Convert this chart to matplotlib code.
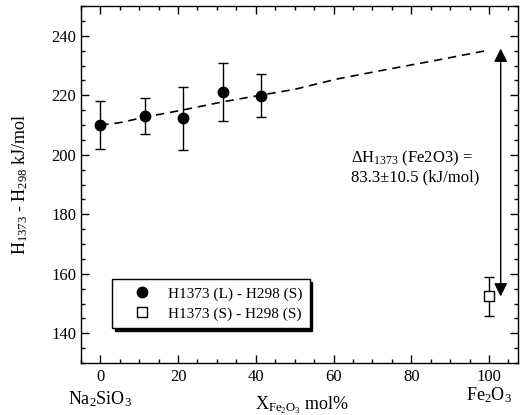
import matplotlib
matplotlib.use("Agg")
import matplotlib.pyplot as plt
from matplotlib.lines import Line2D
from matplotlib.ticker import MultipleLocator

plt.rcParams["font.family"] = ["Liberation Serif", "DejaVu Serif"]
plt.rcParams["mathtext.fontset"] = "custom"
plt.rcParams["mathtext.rm"] = "Liberation Serif"
plt.rcParams["mathtext.it"] = "Liberation Serif:italic"
plt.rcParams["mathtext.default"] = "rm"

# Enthalpy of liquid melts, H1373(L) - H298(S)
x_liq = [0, 11.6, 21.4, 31.5, 41.4]
h_liq = [210.1, 213.1, 212.3, 221.0, 219.9]
err_liq = [8.0, 6.0, 10.6, 9.8, 7.3]

# Crystalline Fe2O3, H1373(S) - H298(S)
x_sol = [100]
h_sol = [152.4]
err_sol = [6.4]

# Dashed trend of the liquid enthalpy up to pure Fe2O3
x_fit = [0, 5, 12, 21, 31.5, 41.5, 50, 61, 73, 87, 100]
h_fit = [210.0, 210.8, 212.8, 215.0, 217.8, 220.1, 222.0, 225.5, 228.5, 231.9, 235.2]

dH_fus = 83.3
dH_err = 10.5

labels = ["H1373 (L) - H298 (S)", "H1373 (S) - H298 (S)"]

fig = plt.figure(figsize=(5.25, 4.15), dpi=100)
ax = fig.add_axes([0.154, 0.125, 0.833, 0.8605])

ax.plot(x_fit, h_fit, ls=(0, (5, 3.5)), color="black", lw=1.2, zorder=1)

ax.errorbar(x_liq, h_liq, yerr=err_liq, fmt="o", color="black", ms=7.5,
            ecolor="black", elinewidth=1.0, capsize=3.5, capthick=1.0,
            zorder=3)
ax.errorbar(x_sol, h_sol, yerr=err_sol, fmt="s", mfc="white", mec="black",
            mew=1.0, ms=7, ecolor="black", elinewidth=1.0, capsize=3.5,
            capthick=1.0, zorder=3)

# Double-headed arrow spanning the enthalpy of fusion
ax.annotate("", xy=(103, h_sol[0]), xytext=(103, h_sol[0] + dH_fus),
            arrowprops=dict(arrowstyle="<|-|>", color="black", lw=1.0,
                            mutation_scale=20, shrinkA=0, shrinkB=0))

ax.text(64.6, 198.7, r"$\Delta$H$_{1373}$ (Fe2O3) =", fontsize=12,
        ha="left", va="center")
ax.text(64.6, 192.3, f"{dH_fus}\u00b1{dH_err} (kJ/mol)", fontsize=12,
        ha="left", va="center")

ax.set_xlim(-5, 107.5)
ax.set_ylim(130, 250)
ax.xaxis.set_major_locator(MultipleLocator(20))
ax.xaxis.set_minor_locator(MultipleLocator(5))
ax.yaxis.set_major_locator(MultipleLocator(20))
ax.yaxis.set_minor_locator(MultipleLocator(5))
ax.tick_params(which="both", direction="in", top=True, right=True,
               width=1.0, labelsize=12)
ax.tick_params(which="major", length=6)
ax.tick_params(which="minor", length=3)
ax.tick_params(axis="x", pad=4)
for s in ax.spines.values():
    s.set_linewidth(1.0)

ax.set_ylabel("H$_{1373}$ - H$_{298}$ kJ/mol", fontsize=13, labelpad=15)
fig.text(0.576, 0.024, r"X$_{\mathrm{Fe_2O_3}}$ mol%", fontsize=13,
         ha="center", va="center")
ax.text(0, -0.102, "Na$_2$SiO$_3$", transform=ax.get_xaxis_transform(),
        fontsize=13, ha="center", va="center")
ax.text(100, -0.09, "Fe$_2$O$_3$", transform=ax.get_xaxis_transform(),
        fontsize=13, ha="center", va="center")

handles = [
    Line2D([], [], ls="none", marker="o", color="black", ms=7.5),
    Line2D([], [], ls="none", marker="s", mfc="white", mec="black",
           mew=1.0, ms=7),
]
leg = ax.legend(handles, labels, loc="upper left",
                bbox_to_anchor=(0.0708, 0.235), borderaxespad=0,
                fancybox=False, edgecolor="black", framealpha=1,
                fontsize=11, handletextpad=0.15, borderpad=0.5,
                labelspacing=0.4, handlelength=3.0,
                shadow={"facecolor": "black", "edgecolor": "black",
                        "alpha": 1.0})
leg.get_frame().set_linewidth(1.0)

fig.savefig("out.png", dpi=100)
